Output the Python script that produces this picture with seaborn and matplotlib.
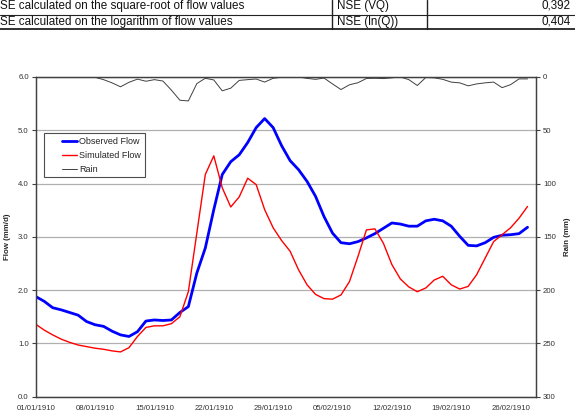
import matplotlib
matplotlib.use("Agg")
import matplotlib.pyplot as plt
import matplotlib.dates as mdates
from matplotlib.lines import Line2D
import seaborn as sns
import pandas as pd

start_date = "1910-01-01"
observed = [1.88, 1.79, 1.67, 1.63, 1.58, 1.53, 1.41, 1.35, 1.32, 1.23,
            1.16, 1.13, 1.22, 1.42, 1.44, 1.43, 1.44, 1.58, 1.69, 2.32,
            2.79, 3.51, 4.17, 4.41, 4.54, 4.77, 5.05, 5.22, 5.05, 4.71,
            4.43, 4.26, 4.04, 3.76, 3.38, 3.07, 2.89, 2.87, 2.91, 2.98,
            3.06, 3.16, 3.26, 3.24, 3.20, 3.20, 3.30, 3.33, 3.30, 3.20,
            3.01, 2.84, 2.83, 2.89, 2.99, 3.03, 3.04, 3.06, 3.18]
simulated = [1.36, 1.25, 1.16, 1.08, 1.02, 0.97, 0.94, 0.91, 0.89, 0.86,
             0.84, 0.92, 1.13, 1.30, 1.33, 1.33, 1.37, 1.50, 1.97, 3.07,
             4.17, 4.52, 3.92, 3.56, 3.75, 4.10, 3.98, 3.51, 3.17, 2.93,
             2.73, 2.38, 2.10, 1.92, 1.84, 1.83, 1.91, 2.16, 2.63, 3.13,
             3.15, 2.88, 2.48, 2.21, 2.06, 1.97, 2.04, 2.19, 2.26, 2.10,
             2.02, 2.07, 2.29, 2.60, 2.91, 3.04, 3.17, 3.35, 3.57]
rain = [0, 0, 0, 0, 0, 0, 0, 0.3, 2.5, 5.5,
        9.2, 5.0, 2.0, 4.0, 2.5, 3.8, 12.3, 21.8, 22.5, 6.2,
        1.2, 2.8, 13.0, 10.5, 3.2, 2.5, 1.9, 4.8, 1.2, 0.3,
        0, 0, 1.3, 2.2, 1.0, 6.5, 11.8, 7.3, 5.4, 1.4,
        1.2, 1.5, 0.8, 0, 2.5, 8.0, 0.5, 0.8, 2.2, 4.8,
        5.5, 8.3, 6.5, 5.5, 4.8, 10.0, 7.2, 1.8, 1.8]

table_rows = [("SE calculated on the square-root of flow values", "NSE (VQ)", "0,392"),
              ("SE calculated on the logarithm of flow values", "NSE (ln(Q))", "0,404")]

flow_ticks = [0.0, 1.0, 2.0, 3.0, 4.0, 5.0, 6.0]
rain_ticks = [0, 50, 100, 150, 200, 250, 300]

sns.set_style("white")
plt.rcParams["font.family"] = ["Liberation Sans", "DejaVu Sans"]

dates = pd.date_range(start_date, periods=len(observed), freq="D")
df = pd.DataFrame({"date": dates, "observed": observed,
                   "simulated": simulated, "rain": rain})

fig = plt.figure(figsize=(5.75, 4.13), dpi=100)
ax = fig.add_axes([0.0621, 0.0395, 0.8701, 0.7741])
ax2 = ax.twinx()

sns.lineplot(data=df, x="date", y="observed", ax=ax, color="#0000ff", linewidth=2.0)
sns.lineplot(data=df, x="date", y="simulated", ax=ax, color="#ff0000", linewidth=1.0)
sns.lineplot(data=df, x="date", y="rain", ax=ax2, color="#404040", linewidth=0.7)

ax.set_xlim(dates[0], dates[0] + pd.Timedelta(days=59))
ax.set_ylim(0, 6)
ax2.set_ylim(300, 0)
ax.set_yticks(flow_ticks)
ax.set_yticklabels([f"{t:.1f}" for t in flow_ticks])
ax2.set_yticks(rain_ticks)
ax2.set_yticklabels([str(t) for t in rain_ticks])
xt = pd.date_range(start_date, periods=9, freq="7D")
ax.set_xticks(xt)
ax.xaxis.set_major_formatter(mdates.DateFormatter("%d/%m/%Y"))

ax.grid(axis="y", color="#b0b0b0", linewidth=0.9)
ax.set_axisbelow(True)
ax.set_xlabel("")
ax.set_ylabel("Flow (mm/d)", fontsize=5.7, fontweight="bold", labelpad=5)
ax2.set_ylabel("Rain (mm)", fontsize=5.7, fontweight="bold", labelpad=6)
ax2.set_xlabel("")

for a in (ax, ax2):
    a.tick_params(axis="both", labelsize=5.6, length=3, width=0.8,
                  direction="out", pad=2, colors="#404040", labelcolor="#333333")
    for s in a.spines.values():
        s.set_color("#404040")
        s.set_linewidth(0.9)
ax.tick_params(axis="x", pad=3)

handles = [Line2D([], [], color="#0000ff", linewidth=2.0),
           Line2D([], [], color="#ff0000", linewidth=1.0),
           Line2D([], [], color="#404040", linewidth=0.7)]
labels = ["Observed Flow", "Simulated Flow", "Rain"]
leg = ax2.legend(handles, labels, loc="upper left", bbox_to_anchor=(0.017, 0.824),
                 fontsize=6.5, frameon=True, fancybox=False, edgecolor="#202020",
                 handlelength=3.2, labelspacing=0.55, borderpad=0.4, handletextpad=0.3,
                 borderaxespad=0)
leg.get_frame().set_linewidth(0.8)
# shorten the visible handle lines to their right half (Excel-like spacing)
for ln in leg.get_lines():
    xd = list(ln.get_xdata())
    if len(xd) >= 2:
        ln.set_xdata([xd[0] + (xd[-1] - xd[0]) * 0.5, xd[-1]])
        ln.set_ydata(list(ln.get_ydata())[:2])

# cropped table at the top
W, H = 575.0, 413.0
def fx(px): return px / W
def fy(py): return 1 - py / H
row_y = [6, 22]
for (t1, t2, t3), yy in zip(table_rows, row_y):
    fig.text(fx(0.5), fy(yy), t1, fontsize=8.4, va="center", ha="left", color="#111111")
    fig.text(fx(337), fy(yy), t2, fontsize=8.4, va="center", ha="left", color="#111111")
    fig.text(fx(571), fy(yy), t3, fontsize=8.4, va="center", ha="right", color="#111111")
fig.add_artist(Line2D([0, 1], [fy(15.4), fy(15.4)], color="#222222", linewidth=0.8))
fig.add_artist(Line2D([0, 1], [fy(29.3), fy(29.3)], color="#222222", linewidth=1.3))
for vx in (331.5, 427):
    fig.add_artist(Line2D([fx(vx), fx(vx)], [fy(0), fy(29.3)], color="#222222", linewidth=1.0))

fig.savefig("out.png", dpi=100)
